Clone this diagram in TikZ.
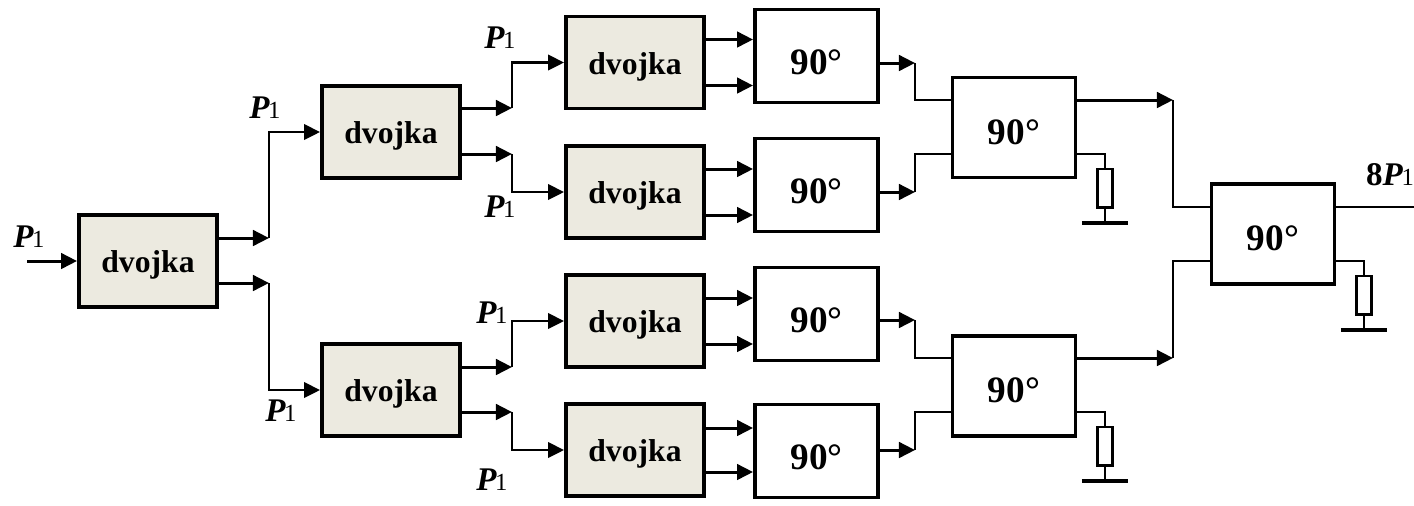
\documentclass[tikz,border=0pt]{standalone}
\usepackage{fontspec}
\setmainfont{Liberation Serif}
\usetikzlibrary{arrows.meta}
\newcommand{\powerone}{{\fontsize{9.4pt}{10pt}\selectfont\bfseries\itshape P}\kern-0.4pt{\fontsize{7pt}{8pt}\selectfont 1}}
\tikzset{
	splitbox/.style={draw,line width=1.1pt,fill=boxtan,minimum width=1.38cm,minimum height=0.92cm,inner sep=0pt,text height=0.28cm,text depth=0.05cm,font=\fontsize{9pt}{10pt}\selectfont\bfseries},
	hybridbox/.style={draw,line width=1.1pt,fill=white,minimum width=1.23cm,minimum height=0.93cm,inner sep=0pt,text height=0.37cm,text depth=0cm,font=\fontsize{10.6pt}{12pt}\selectfont\bfseries},
	tallbox/.style={hybridbox,minimum height=1cm,text height=0.33cm},
	resbox/.style={draw,line width=0.85pt,minimum width=0.15cm,minimum height=0.38cm,inner sep=0pt},
	feed/.style={line width=0.85pt,-{Triangle[length=0.16cm,width=0.155cm]}},
	wire/.style={line width=0.6pt},
	wirearrow/.style={wire,-{Triangle[length=0.16cm,width=0.155cm]}},
	plabel/.style={inner sep=0pt},
}
\definecolor{boxtan}{RGB}{236,234,224}
\begin{document}
\begin{tikzpicture}[x=0.01cm,y=-0.01cm]
\useasboundingbox (0,0) rectangle (1414,505);
% Power dividers
\node[splitbox] (split0) at (148,261) {dvojka};
\node[splitbox] (split1) at (391,132) {dvojka};
\node[splitbox] (split2) at (391,390) {dvojka};
\node[splitbox] (split3) at (635,62.5) {dvojka};
\node[splitbox] (split4) at (635,192) {dvojka};
\node[splitbox] (split5) at (635,321) {dvojka};
\node[splitbox] (split6) at (635,450) {dvojka};
% First row of hybrids
\node[hybridbox] (hyb1) at (816.5,56) {90°};
\node[hybridbox] (hyb2) at (816.5,185) {90°};
\node[hybridbox] (hyb3) at (816.5,314) {90°};
\node[hybridbox] (hyb4) at (816.5,451) {90°};
% Second and third row of hybrids
\node[tallbox] (hyb5) at (1014,127.5) {90°};
\node[tallbox] (hyb6) at (1014,386) {90°};
\node[tallbox] (hyb7) at (1273,234) {90°};
% Labels
\node[plabel] (lab0) at (29,237) {\powerone};
\node[plabel] (lab1) at (265,108) {\powerone};
\node[plabel] (lab2) at (281,411) {\powerone};
\node[plabel] (lab3) at (500,38) {\powerone};
\node[plabel] (lab4) at (500,207) {\powerone};
\node[plabel] (lab5) at (492,313) {\powerone};
\node[plabel] (lab6) at (492,480) {\powerone};
\node[plabel] (lab7) at (1390,175) {{\fontsize{9.4pt}{10pt}\selectfont\bfseries 8}\powerone};
% Input
\coordinate (input) at (27,261);
\draw[feed] (input) -- (split0.west);
% First divider to second stage
\coordinate (turn1) at (269,238);
\coordinate (turn2) at (269,283);
\draw[feed] (split0.east |- turn1) -- (turn1);
\draw[feed] (split0.east |- turn2) -- (turn2);
\draw[wirearrow] (turn1) |- (split1.west);
\draw[wirearrow] (turn2) |- (split2.west);
% Second stage to third stage
\coordinate (turn3) at (512,108);
\coordinate (turn4) at (512,154);
\coordinate (turn5) at (512,367);
\coordinate (turn6) at (512,412);
\draw[feed] (split1.east |- turn3) -- (turn3);
\draw[feed] (split1.east |- turn4) -- (turn4);
\draw[feed] (split2.east |- turn5) -- (turn5);
\draw[feed] (split2.east |- turn6) -- (turn6);
\draw[wirearrow] (turn3) |- (split3.west);
\draw[wirearrow] (turn4) |- (split4.west);
\draw[wirearrow] (turn5) |- (split5.west);
\draw[wirearrow] (turn6) |- (split6.west);
% Dividers to hybrids
\foreach \n/\m/\off in {3/1/23,4/2/23,5/3/23,6/4/22}{
	\draw[feed] ([yshift=\off*0.01cm]split\n.east) -- ([yshift=\off*0.01cm]split\n.east -| hyb\m.west);
	\draw[feed] ([yshift=-\off*0.01cm]split\n.east) -- ([yshift=-\off*0.01cm]split\n.east -| hyb\m.west);
}
% Hybrids to second row
\coordinate (turn7) at (915,63);
\coordinate (turn8) at (915,192);
\coordinate (turn9) at (915,320);
\coordinate (turn10) at (915,450);
\coordinate (port1) at (953,100);
\coordinate (port2) at (953,154);
\coordinate (port3) at (953,358);
\coordinate (port4) at (953,412);
\draw[feed] (hyb1.east |- turn7) -- (turn7);
\draw[feed] (hyb2.east |- turn8) -- (turn8);
\draw[feed] (hyb3.east |- turn9) -- (turn9);
\draw[feed] (hyb4.east |- turn10) -- (turn10);
\draw[wire] (turn7) |- (port1);
\draw[wire] (turn8) |- (port2);
\draw[wire] (turn9) |- (port3);
\draw[wire] (turn10) |- (port4);
% Second row to last hybrid
\coordinate (turn11) at (1173,100);
\coordinate (turn12) at (1173,358);
\coordinate (port5) at (1212,207);
\coordinate (port6) at (1212,261);
\draw[feed] (hyb5.east |- turn11) -- (turn11);
\draw[feed] (hyb6.east |- turn12) -- (turn12);
\draw[wire] (turn11) |- (port5);
\draw[wire] (turn12) |- (port6);
% Output
\coordinate (output) at (1414,207);
\draw[line width=0.75pt] (hyb7.east |- output) -- (output);
% Loads
\foreach \h/\x/\yt/\name in {hyb5/1105/154/loada,hyb6/1105/412/loadb,hyb7/1364/261/loadc}{
	\node[resbox] (\name) at (\x,\yt+34) {};
	\coordinate (\name g) at (\x,\yt+69);
	\coordinate (\name t) at (\x,\yt);
	\draw[wire] (\h.east |- \name t) -- (\name t) -- (\name.north);
	\draw[wire] (\name.south) -- (\name g);
	\draw[line width=0.95pt] ([xshift=-0.23cm]\name g) -- ([xshift=0.23cm]\name g);
}
\end{tikzpicture}
\end{document}
